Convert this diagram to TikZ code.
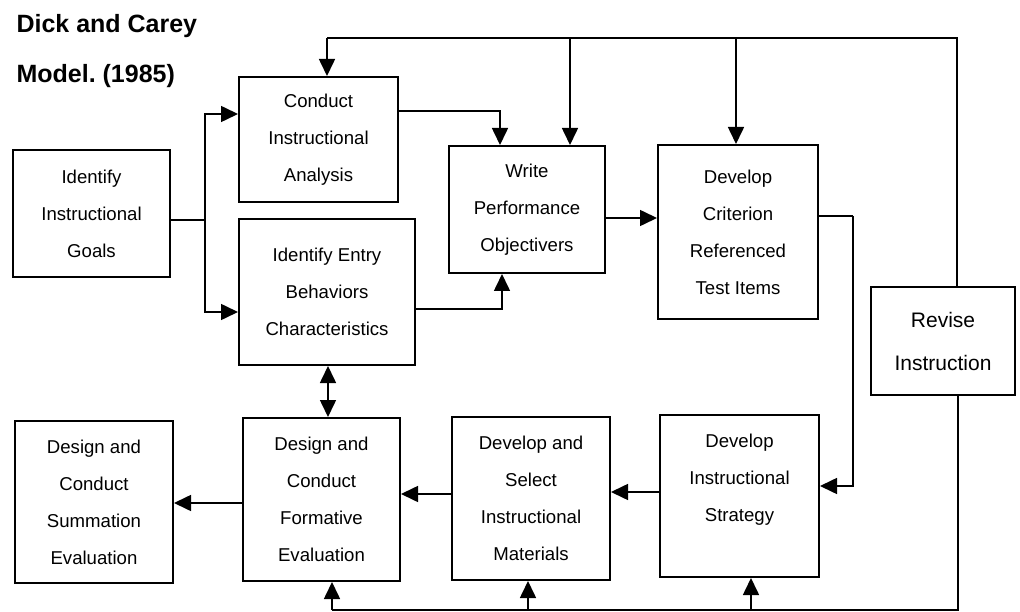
\documentclass[tikz,border=0pt]{standalone}
\usepackage{fontspec}
\setmainfont{Liberation Sans}
\usetikzlibrary{arrows.meta}
\frenchspacing

\begin{document}
\begin{tikzpicture}[x = 1pt, y = -1pt,
		box/.style = {draw, line width = 2pt, inner sep = 0pt, align = center, font = \fontsize{18.6}{37}\selectfont},
		link/.style = {line width = 1.6pt},
		head/.style = {link, -{Triangle[length = 17pt, width = 16pt]}},
		twohead/.style = {link, {Triangle[length = 17pt, width = 16pt]}-{Triangle[length = 17pt, width = 16pt]}}]
			\useasboundingbox (0,0) rectangle (1020,612);

			\begin{scope}[font = \fontsize{25}{30}\selectfont\bfseries]
				\node [anchor = base west] (title) at (13,33) {Dick and Carey};
				\node [anchor = base west] (year) at (13,83) {Model. (1985)};
			\end{scope}

			\begin{scope}
				\node [box, minimum width = 157pt, minimum height = 127pt] (goals) at (91.5,213.5) {Identify\\Instructional\\Goals};
				\node [box, minimum width = 159pt, minimum height = 125pt] (conduct) at (318.5,139.5) {Conduct\\Instructional\\Analysis};
				\node [box, minimum width = 176pt, minimum height = 146pt] (entry) at (327,292) {Identify Entry\\Behaviors\\Characteristics};
				\node [box, minimum width = 156pt, minimum height = 127pt] (write) at (527,209.5) {Write\\Performance\\Objectivers};
				\node [box, minimum width = 160pt, minimum height = 174pt] (criterion) at (738,232) {Develop\\Criterion\\Referenced\\Test Items};
				\node [box, minimum width = 144pt, minimum height = 108pt, font = \fontsize{21}{43}\selectfont] (revise) at (943,341) {Revise\\Instruction};
				\node [box, minimum width = 158pt, minimum height = 162pt] (summation) at (94,502) {Design and\\Conduct\\Summation\\Evaluation};
				\node [box, minimum width = 157pt, minimum height = 163pt] (formative) at (321.5,499.5) {Design and\\Conduct\\Formative\\Evaluation};
				\node [box, minimum width = 158pt, minimum height = 163pt] (materials) at (531,498.5) {Develop and\\Select\\Instructional\\Materials};
				\node [box, minimum width = 159pt, minimum height = 162pt] (strategy) at (739.5,496) {Develop\\Instructional\\Strategy\\\mbox{}};
			\end{scope}

			\begin{scope}
				\coordinate (split) at (205,220);
				\draw [link] (goals.east |- split) -- (split);
				\draw [head] (split) |- (conduct.west |- 0,114);
				\draw [head] (split) |- (entry.west |- 0,312);

				\draw [head] (conduct.east |- 0,111) -| (write.north -| 500,0);
				\draw [head] (entry.east |- 0,309) -| (write.south -| 502,0);
				\draw [head] (write.east |- 0,218) -- (criterion.west |- 0,218);

				\coordinate (bend) at (853,216);
				\draw [link] (criterion.east |- bend) -- (bend);
				\draw [head] (bend) |- (strategy.east |- 0,486);

				\draw [head] (strategy.west |- 0,492) -- (materials.east |- 0,492);
				\draw [head] (materials.west |- 0,494) -- (formative.east |- 0,494);
				\draw [head] (formative.west |- 0,503) -- (summation.east |- 0,503);
				\draw [twohead] (entry.south -| 328,0) -- (formative.north -| 328,0);
			\end{scope}

			\begin{scope}
				\coordinate (topright) at (957,38);
				\coordinate (topleft) at (327,38);
				\coordinate (towrite) at (570,38);
				\coordinate (tocriterion) at (736,38);
				\draw [link] (revise.north -| topright) -- (topright) -- (topleft);
				\draw [head] (topleft) -- (conduct.north -| topleft);
				\draw [head] (towrite) -- (write.north -| towrite);
				\draw [head] (tocriterion) -- (criterion.north -| tocriterion);

				\coordinate (botright) at (958,610);
				\coordinate (toformative) at (332,610);
				\coordinate (tomaterials) at (528,610);
				\coordinate (tostrategy) at (751,610);
				\draw [link] (revise.south -| botright) -- (botright) -- (toformative);
				\draw [head] (toformative) -- (formative.south -| toformative);
				\draw [head] (tomaterials) -- (materials.south -| tomaterials);
				\draw [head] (tostrategy) -- (strategy.south -| tostrategy);
			\end{scope}
		\end{tikzpicture}
\end{document}
